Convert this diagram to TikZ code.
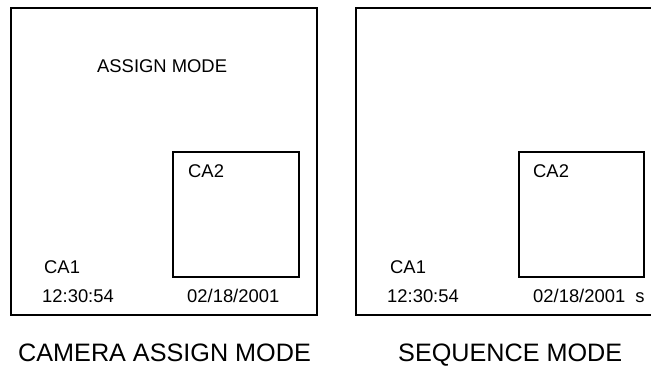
\documentclass[tikz,border=0pt]{standalone}
\usepackage{fontspec}
\setmainfont{Liberation Sans}
\begin{document}
\begin{tikzpicture}[x=1pt,y=-1pt,
  frame/.style={draw, line width=1.2pt, inner sep=0pt, outer sep=0pt, anchor=north west},
  small/.style={font=\fontsize{18.4}{21}\selectfont, inner sep=0pt, anchor=base west},
  big/.style={font=\fontsize{25.2}{28}\selectfont, inner sep=0pt, anchor=base west}]
\useasboundingbox (0,0) rectangle (651,365);
\clip (0,0) rectangle (651,365);
% left screen
\node[frame, minimum width=306pt, minimum height=307pt] (L) at (11,8) {};
\node[frame, minimum width=126pt, minimum height=125pt] (Lin) at (173,152) {};
\node[small] (lam) at (97,72) {ASSIGN MODE};
\node[small] (lca2) at (188,177) {CA2};
\node[small] (lca1) at (44,273) {CA1};
\node[small] (ltime) at (42,302) {12:30:54};
\node[small] (ldate) at (187,302) {02/18/2001};
% right screen (runs past the right edge)
\coordinate (rtl) at (356,8);
\coordinate (rbl) at (356,315);
\coordinate (rtr) at (660,8);
\coordinate (rbr) at (660,315);
\draw[line width=1.2pt] (rtr) -- (rtl) -- (rbl) -- (rbr);
\node[frame, minimum width=125pt, minimum height=125pt] (Rin) at (519,152) {};
\node[small] (rca2) at (533,177) {CA2};
\node[small] (rca1) at (390,273) {CA1};
\node[small] (rtime) at (387,302) {12:30:54};
\node[small] (rdate) at (533,302) {02/18/2001\ \ s};
% captions
\node[big] (cap1) at (18,361) {CAMERA ASSIGN MODE};
\node[big] (cap2) at (398,361) {SEQUENCE MODE};
\end{tikzpicture}
\end{document}
